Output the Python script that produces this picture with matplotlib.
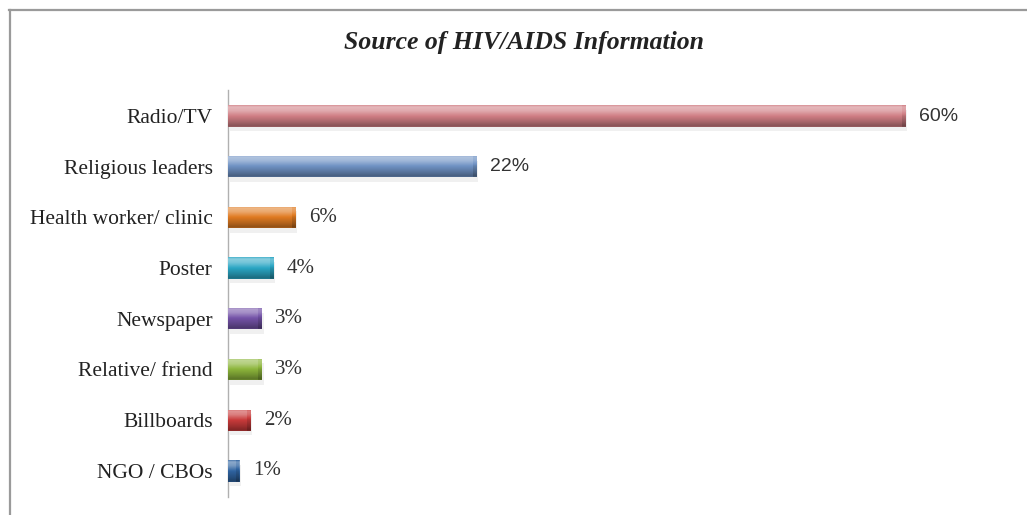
import numpy as np
import matplotlib
matplotlib.use("Agg")
import matplotlib.pyplot as plt
from matplotlib.colors import to_rgb
from matplotlib.lines import Line2D

categories = ["Radio/TV", "Religious leaders", "Health worker/ clinic", "Poster",
              "Newspaper", "Relative/ friend", "Billboards", "NGO / CBOs"]
values = [60, 22, 6, 4, 3, 3, 2, 1]
value_labels = ["60%", "22%", "6%", "4%", "3%", "3%", "2%", "1%"]
colors = ["#d07e84", "#6f92c4", "#e07b22", "#2aa6c4", "#7453a8", "#8db63c", "#c83a3a", "#2f63a0"]
title = "Source of HIV/AIDS Information"

W, H = 1027, 515
fig = plt.figure(figsize=(W / 100, H / 100), dpi=100)
fig.patch.set_facecolor("white")

# frame lines (top and left)
fig.add_artist(Line2D([9 / W, 1], [1 - 9.5 / H, 1 - 9.5 / H], color="#9a9a9a", lw=1.6))
fig.add_artist(Line2D([9.5 / W, 9.5 / W], [0, 1 - 9.5 / H], color="#9a9a9a", lw=1.6))

ax_left, ax_right = 228 / W, 990 / W
ax_top, ax_bot = 1 - 90 / H, 1 - 497 / H
ax = fig.add_axes([ax_left, ax_bot, ax_right - ax_left, ax_top - ax_bot])
x_max = (990 - 228) / ((905 - 228) / 60)

for s in ["top", "right", "bottom"]:
    ax.spines[s].set_visible(False)
ax.spines["left"].set_color("#b0b0b0")
ax.spines["left"].set_linewidth(1.0)
ax.set_xticks([])
ax.set_yticks(range(len(categories)))
ax.set_yticklabels(categories, family="Liberation Serif", fontsize=15.5, color="#222222")
ax.tick_params(axis="y", length=0, pad=11)

bar_h = 0.42
ypos = np.arange(len(categories))

# vertical gradient profile (top -> bottom): factor >0 lighten, <0 darken
prof_t = np.linspace(0, 1, 64)
prof = np.interp(prof_t, [0, 0.08, 0.25, 0.5, 0.8, 0.95, 1.0],
                 [0.15, 0.45, 0.35, 0.0, -0.22, -0.35, -0.25])

def shade(c, f):
    c = np.array(to_rgb(c))
    f = max(min(f, 1), -1)
    if f >= 0:
        return c + (1 - c) * f
    return c * (1 + f)

bars = ax.barh(ypos, values, height=bar_h, color=colors, edgecolor="none", zorder=2)
for b, c, v, y in zip(bars, colors, values, ypos):
    # shadow
    ax.barh(y + 0.09, v, height=bar_h, left=0.15, color="#000000", alpha=0.06,
            edgecolor="none", zorder=1)
    img = np.array([[shade(c, f)] for f in prof])
    im = ax.imshow(img, extent=(0, v, y + bar_h / 2, y - bar_h / 2),
                   aspect="auto", interpolation="bilinear", zorder=3)
    im.set_clip_path(b)
    # slightly darker end cap
    cap_w = min(0.3, v * 0.25)
    capimg = np.array([[shade(c, f - 0.12)] for f in prof])
    im2 = ax.imshow(capimg, extent=(v - cap_w, v, y + bar_h / 2, y - bar_h / 2),
                    aspect="auto", interpolation="bilinear", zorder=4)
    im2.set_clip_path(b)

ax.set_xlim(0, x_max)
ax.set_ylim(len(categories) - 0.485, -0.513)

for i, (v, lab) in enumerate(zip(values, value_labels)):
    if i < 2:
        ax.text(v + 1.2, i, lab, va="center", ha="left", family="Liberation Sans",
                fontsize=14, color="#333333")
    else:
        ax.text(v + 1.2, i, lab, va="center", ha="left", family="Liberation Serif",
                fontsize=15, color="#333333")

fig.text(524.5 / W, 1 - 43 / H, title, ha="center", va="center",
         family="Liberation Serif", fontsize=18.5, fontweight="bold", style="italic",
         color="#222222")

fig.savefig("out.png", dpi=100, facecolor="white")
